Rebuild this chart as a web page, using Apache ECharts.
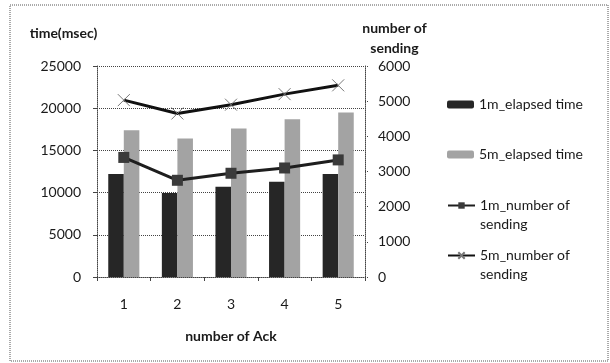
<!DOCTYPE html>
<html>
<head>
<meta charset="utf-8">
<script src="https://cdn.jsdelivr.net/npm/echarts@6/dist/echarts.min.js"></script>
<style>
  html, body { margin: 0; padding: 0; background: #fff; }
  #chart { width: 610px; height: 363px; }
</style>
</head>
<body>
<div id="chart"></div>
<script>
  // data
  const ackCounts = ['1', '2', '3', '4', '5'];
  const elapsed1m = [12200, 9950, 10700, 11300, 12200];
  const elapsed5m = [17400, 16400, 17600, 18700, 19500];
  const sending1m = [3400, 2750, 2950, 3100, 3330];
  const sending5m = [5030, 4650, 4900, 5200, 5450];
  const leftTicks = { min: 0, max: 25000, interval: 5000 };
  const rightTicks = { min: 0, max: 6000, interval: 1000 };

  const font = 'Lato, "Open Sans", sans-serif';
  const ink = '#1a1a1a';
  const crossMark = 'path://M0,0L10,10M10,0L0,10';

  const chart = echarts.init(document.getElementById('chart'));

  // two-line legend names: blank first line so the icon sits on the first text line
  const legendBase = {
    orient: 'vertical',
    left: 442,
    itemWidth: 27,
    itemHeight: 8,
    itemGap: 0,
    formatter: name => (name.indexOf('\n') >= 0 ? '\n' + name : name),
    textStyle: { fontFamily: font, fontSize: 14, color: ink, lineHeight: 19 }
  };

  const option = {
    animation: false,
    textStyle: { fontFamily: font },
    graphic: [
      {
        type: 'rect',
        shape: { x: 10, y: 5, width: 598, height: 356 },
        style: { fill: 'none', stroke: '#555', lineWidth: 1, lineDash: [1, 1] }
      }
    ],
    legend: [
      Object.assign({}, legendBase, { top: 90, data: ['1m_elapsed time'] }),
      Object.assign({}, legendBase, { top: 140, data: ['5m_elapsed time'] }),
      Object.assign({}, legendBase, { top: 172, data: ['1m_number of\nsending'] }),
      Object.assign({}, legendBase, { top: 222, data: ['5m_number of\nsending'] })
    ],
    grid: { left: 97, right: 245, top: 66, bottom: 86 },
    xAxis: {
      type: 'category',
      data: ackCounts,
      name: 'number of Ack',
      nameLocation: 'middle',
      nameGap: 52,
      nameTextStyle: { fontFamily: font, fontSize: 14, fontWeight: 'bold', color: ink },
      axisLine: { lineStyle: { color: '#444', type: 'dotted' } },
      axisTick: { show: true, length: 4, lineStyle: { color: '#444' } },
      axisLabel: { fontFamily: font, fontSize: 14, color: ink, margin: 20 }
    },
    yAxis: [
      {
        type: 'value',
        min: leftTicks.min,
        max: leftTicks.max,
        interval: leftTicks.interval,
        name: 'time(msec)',
        nameLocation: 'end',
        nameGap: 26,
        nameTextStyle: {
          fontFamily: font, fontSize: 14, fontWeight: 'bold', color: ink,
          align: 'center', padding: [0, 67, 0, 0]
        },
        axisLine: { show: true, lineStyle: { color: '#444', type: 'dotted' } },
        axisTick: { show: true, length: 4, lineStyle: { color: '#444' } },
        axisLabel: { fontFamily: font, fontSize: 14, color: ink, margin: 16, formatter: v => String(v) },
        splitLine: { show: true, lineStyle: { color: '#444', type: 'dotted' } }
      },
      {
        type: 'value',
        position: 'right',
        min: rightTicks.min,
        max: rightTicks.max,
        interval: rightTicks.interval,
        name: 'number of\nsending',
        nameLocation: 'end',
        nameGap: 8,
        nameTextStyle: {
          fontFamily: font, fontSize: 14, fontWeight: 'bold', color: ink,
          align: 'center', lineHeight: 20, padding: [0, 0, 0, 59]
        },
        axisLine: { show: true, lineStyle: { color: '#444', type: 'dotted' } },
        axisTick: { show: true, length: 4, lineStyle: { color: '#444', type: 'dotted' } },
        axisLabel: { fontFamily: font, fontSize: 14, color: ink, margin: 13, formatter: v => String(v) },
        splitLine: { show: false }
      }
    ],
    series: [
      {
        name: '1m_elapsed time',
        type: 'bar',
        yAxisIndex: 0,
        data: elapsed1m,
        barGap: '0%',
        barCategoryGap: '42%',
        itemStyle: { color: '#262626' }
      },
      {
        name: '5m_elapsed time',
        type: 'bar',
        yAxisIndex: 0,
        data: elapsed5m,
        itemStyle: { color: '#a3a3a3' }
      },
      {
        name: '1m_number of\nsending',
        type: 'line',
        yAxisIndex: 1,
        data: sending1m,
        symbol: 'rect',
        symbolSize: 11,
        itemStyle: { color: '#3a3a3a' },
        lineStyle: { color: '#1e1e1e', width: 3 }
      },
      {
        name: '5m_number of\nsending',
        type: 'line',
        yAxisIndex: 1,
        data: sending5m,
        symbol: crossMark,
        symbolSize: 12,
        itemStyle: { color: '#888', borderColor: '#777', borderWidth: 1 },
        lineStyle: { color: '#111', width: 3 }
      }
    ]
  };

  chart.setOption(option);
</script>
</body>
</html>
